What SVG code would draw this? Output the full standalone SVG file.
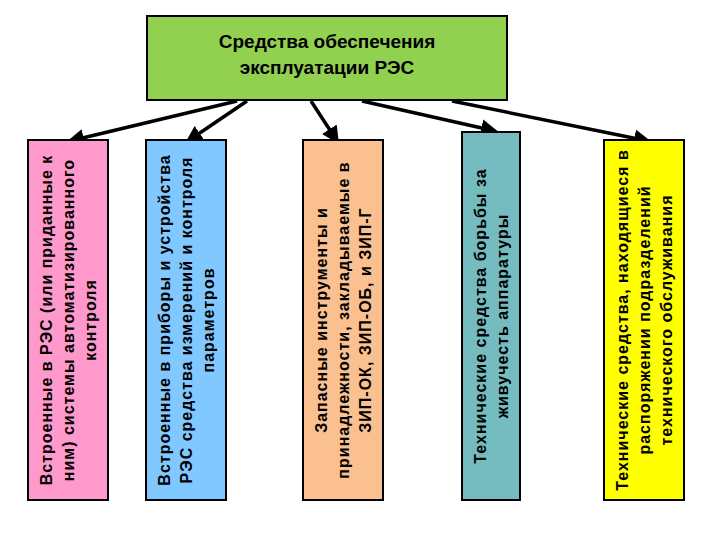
<svg xmlns="http://www.w3.org/2000/svg" width="720" height="540" viewBox="0 0 720 540">
<defs>
<marker id="ah" viewBox="0 0 10 10" refX="8" refY="5" markerWidth="5" markerHeight="5" orient="auto"><path d="M0,0 L10,5 L0,10 z" fill="#000"/></marker>
<style>
.b{stroke:#000;stroke-width:2}
.t{font-family:"Liberation Sans",Arial,sans-serif;font-size:16px;font-weight:bold;letter-spacing:1px;fill:#000;text-anchor:middle}
.h{font-family:"Liberation Sans",Arial,sans-serif;font-size:19px;font-weight:bold;fill:#000;text-anchor:middle}
.c{stroke:#000;stroke-width:3.5;fill:none;marker-end:url(#ah)}
</style>
</defs>
<rect width="720" height="540" fill="#fff"/>
<g id="title"><rect class="b" x="147" y="16" width="360" height="84" fill="#92d050"/>
<text class="h" x="327" y="48">Средства обеспечения</text><text class="h" x="327" y="74">эксплуатации РЭС</text></g>
<g id="connectors">
<line class="c" x1="237" y1="101" x2="70" y2="141"/>
<line class="c" x1="247" y1="101" x2="188" y2="141"/>
<line class="c" x1="311" y1="101" x2="337" y2="141"/>
<line class="c" x1="362" y1="101" x2="495" y2="131"/>
<line class="c" x1="452" y1="101" x2="648" y2="141"/>
</g>
<g id="n1"><rect class="b" x="28" y="140" width="80" height="360" fill="#ff99cc"/>
<text class="t" transform="translate(68,320) rotate(-90)"><tspan x="0" y="-16">Встроенные в РЭС (или приданные к</tspan><tspan x="0" y="6">ним) системы автоматизированного</tspan><tspan x="0" y="28">контроля</tspan></text></g>
<g id="n2"><rect class="b" x="146" y="140" width="80" height="360" fill="#80c8ff"/>
<text class="t" transform="translate(186,320) rotate(-90)"><tspan x="0" y="-16">Встроенные в приборы и устройства</tspan><tspan x="0" y="6">РЭС средства измерений и контроля</tspan><tspan x="0" y="28">параметров</tspan></text></g>
<g id="n3"><rect class="b" x="303" y="140" width="80" height="360" fill="#fac090"/>
<text class="t" transform="translate(343,320) rotate(-90)"><tspan x="0" y="-16">Запасные инструменты и</tspan><tspan x="0" y="6">принадлежности, закладываемые в</tspan><tspan x="0" y="28">ЗИП-ОК, ЗИП-ОБ, и ЗИП-Г</tspan></text></g>
<g id="n4"><rect class="b" x="462" y="132" width="58" height="368" fill="#74bcc0"/>
<text class="t" transform="translate(491,316) rotate(-90)"><tspan x="0" y="-5">Технические средства борьбы за</tspan><tspan x="0" y="17">живучесть аппаратуры</tspan></text></g>
<g id="n5"><rect class="b" x="604" y="140" width="80" height="360" fill="#ffff00"/>
<text class="t" transform="translate(644,320) rotate(-90)"><tspan x="0" y="-16">Технические средства, находящиеся в</tspan><tspan x="0" y="6">распоряжении подразделений</tspan><tspan x="0" y="28">технического обслуживания</tspan></text></g>
</svg>
